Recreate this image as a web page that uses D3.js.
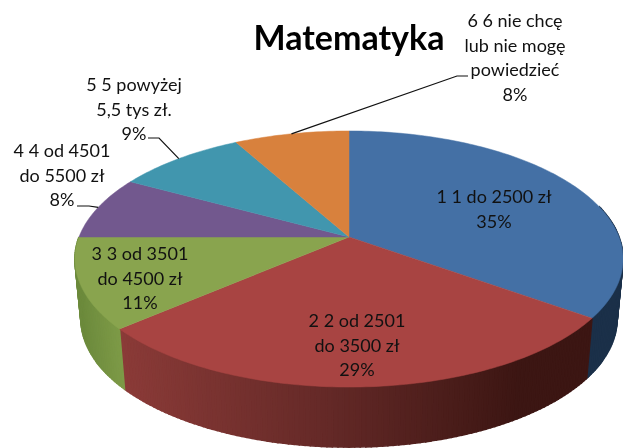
<!DOCTYPE html>
<html>
<head>
<meta charset="utf-8">
<script src="https://cdn.jsdelivr.net/npm/d3@7"></script>
<style>
  html, body { margin: 0; padding: 0; background: #fff; overflow: hidden; }
  svg { display: block; filter: blur(0.5px); }
  text { font-family: Lato, "Open Sans", sans-serif; fill: #111; }
</style>
</head>
<body>
<script>
// Chart data
let title = "Matematyka";
let shares = [35, 28.6, 11.4, 8, 9, 8];
let labels = [
    ["1 1 do 2500 zł"],
    ["2 2 od 2501", "do 3500 zł"],
    ["3 3 od 3501", "do 4500 zł"],
    ["4 4 od 4501", "do 5500 zł"],
    ["5 5 powyżej", "5,5 tys zł."],
    ["6 6 nie chcę", "lub nie mogę", "powiedzieć"]
];

// Colours of each slice: top face, then wall from left to right
let topColors = ["#4470a5", "#a84442", "#89a44e", "#72588e", "#4196ae", "#d8813d"];
let wallColors = [
    ["#1b3049", "#1b3049"],
    ["#8b3b38", "#3c1613"],
    ["#7d9a47", "#6c8a3c"],
    ["#5c4674", "#5c4674"],
    ["#30778a", "#30778a"],
    ["#ad6730", "#ad6730"]
];

// Label placement, separate from the data
let labelPos = [
    { x: 494, y: 203 }, { x: 357, y: 327 }, { x: 140, y: 260 },
    { x: 62, y: 157 }, { x: 134, y: 91 }, { x: 515, y: 27 }
];
let lineHeight = 24.5;
// Leader lines go from the slice rim through an elbow to the label
let leaders = {
    3: [[89, 206], [77, 206]],
    4: [[159, 138], [148, 138]],
    5: [[457, 76], [468, 76]]
};

let svgWidth = 623;
let svgHeight = 448;

let svg = d3.select("body")
    .append("svg")
    .attr("width", svgWidth)
    .attr("height", svgHeight);

// Perspective projection of the unit circle on to the tilted disc
let persp = -0.172;
let depth = 60;
let shrink = 0.978;
let xScale = d3.scaleLinear().domain([-1, 1]).range([79, 619]);
let yScale = d3.scaleLinear().domain([-1, 1]).range([153.5, 320.5]);

function project(angle, z) {
    let u = Math.sin(angle);
    let v = -Math.cos(angle);
    let w = 1 + persp * v;
    let x = xScale(0) + (xScale(u) - xScale(0)) / w * (1 - (1 - shrink) * z);
    let y = yScale(v) / w + depth * z;
    return [x, y];
}

let pieData = d3.pie().sort(null).value(d => d)(shares);
let step = Math.PI / 180;

function arcAngles(a0, a1) {
    let n = Math.max(1, Math.ceil((a1 - a0) / step));
    return d3.range(n + 1).map(i => a0 + (a1 - a0) * i / n);
}

let line = d3.line();

// Walls, only the front part of the disc
let wallStart = Math.PI * 0.42;
let wallEnd = Math.PI * 1.5;
let walls = svg.append("g");

pieData
    .map((d, i) => ({ d: d, i: i }))
    .filter(s => s.d.startAngle < wallEnd && s.d.endAngle > wallStart)
    .forEach(s => {
        let angles = arcAngles(Math.max(s.d.startAngle, wallStart), Math.min(s.d.endAngle, wallEnd));
        let color = d3.scaleLinear()
            .domain([project(s.d.startAngle, 0)[0], project(Math.min(s.d.endAngle, wallEnd), 0)[0]])
            .range(wallColors[s.i])
            .clamp(true);
        if (s.i === 1) color.domain([120, 330, 520]).range(["#8b3b38", "#642927", "#3c1613"]);
        angles.slice(1).forEach((a, k) => {
            let pts = [project(angles[k], 0), project(a, 0), project(a, 1), project(angles[k], 1)];
            walls.append("path")
                .attr("d", line(pts) + "Z")
                .attr("fill", color(pts[0][0]))
                .attr("stroke", color(pts[0][0]))
                .attr("stroke-width", 1.6);
        });
    });

// Top faces
let centre = [xScale(0), yScale(0)];

svg.append("g")
    .selectAll("path")
    .data(pieData)
    .enter()
    .append("path")
    .attr("d", d => {
        let rim = arcAngles(d.startAngle, d.endAngle).map(a => project(a, 0));
        return line([centre].concat(rim)) + "Z";
    })
    .attr("fill", (d, i) => topColors[i])
    .attr("stroke", (d, i) => topColors[i])
    .attr("stroke-width", 0.5);

// Leader lines
svg.append("g")
    .selectAll("path")
    .data(Object.keys(leaders))
    .enter()
    .append("path")
    .attr("d", k => {
        let d = pieData[k];
        let start = project((d.startAngle + d.endAngle) / 2, 0);
        return line([start].concat(leaders[k]));
    })
    .attr("fill", "none")
    .attr("stroke", "#111")
    .attr("stroke-width", 1.2);

// Data labels
let percent = d3.format(".0f");
let labelGroups = svg.append("g")
    .selectAll("text")
    .data(shares)
    .enter()
    .append("text")
    .attr("text-anchor", "middle")
    .attr("font-size", 18);

labelGroups.each(function(d, i) {
    let rows = labels[i].concat(percent(d) + "%");
    d3.select(this).selectAll("tspan")
        .data(rows)
        .enter()
        .append("tspan")
        .attr("x", labelPos[i].x)
        .attr("y", (r, k) => labelPos[i].y + k * lineHeight)
        .text(r => r);
});

// Title
svg.append("text")
    .attr("x", 349)
    .attr("y", 50)
    .attr("text-anchor", "middle")
    .attr("font-size", 34)
    .attr("font-weight", 700)
    .style("fill", "#000")
    .text(title);
</script>
</body>
</html>
